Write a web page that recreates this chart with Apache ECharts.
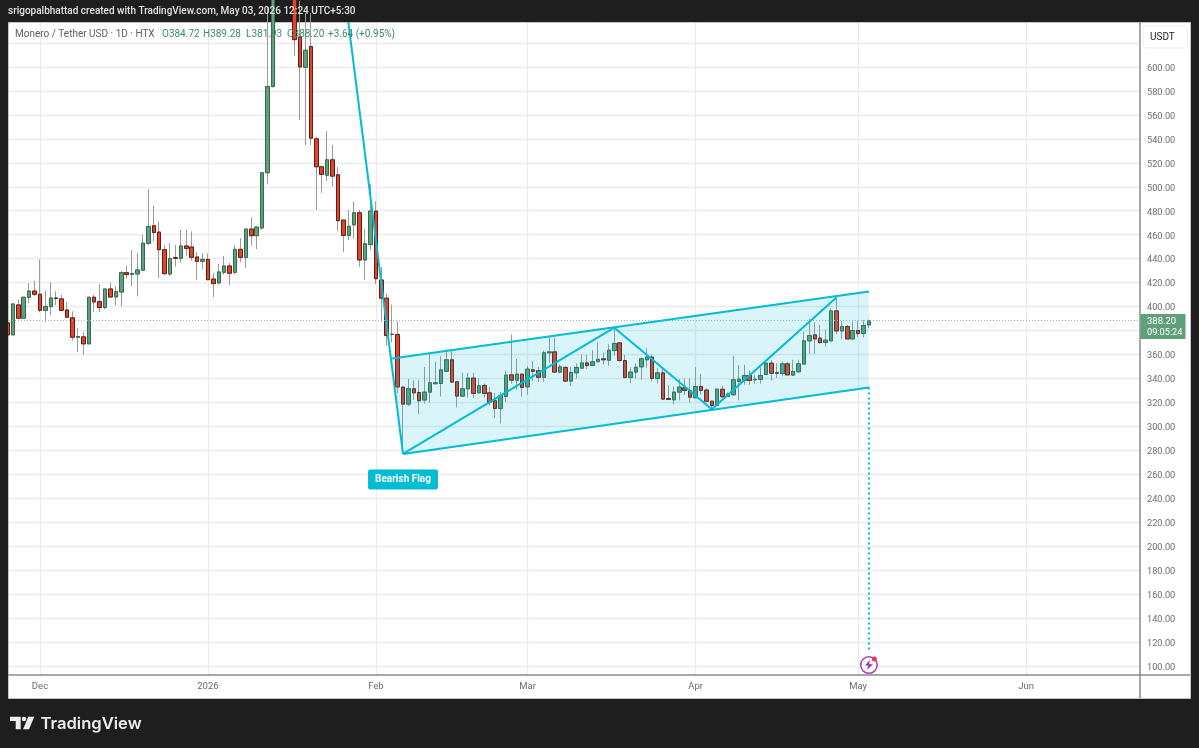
<!DOCTYPE html>
<html>
<head>
<meta charset="utf-8">
<title>Monero / Tether USD</title>
<script src="https://cdn.jsdelivr.net/npm/echarts@6/dist/echarts.min.js"></script>
<style>
html, body { margin: 0; padding: 0; background: #1e1e1e; }
#chart { width: 1199px; height: 748px; }
</style>
</head>
<body>
<div id="chart"></div>
<script>
// XMR/USDT daily candles. First candle is 2025-11-25.
const firstDay = Date.UTC(2025, 10, 25);
const DAY = 86400000;

const opens = [
  386.4, 376.4, 401.4, 390.3, 407.8, 413,
  410.3, 396.9, 400, 407.2, 406.4, 397.2, 390.6, 374.4, 374.7, 368.9, 407.8, 404.2, 399.2, 414.7, 408, 412.2, 428.3, 426.9, 427.2, 430.3, 452.8, 467.5, 462.2, 447.5, 427.2, 440.8, 440.3, 450.6, 449.7, 441.4, 437.8,
  439.4, 423, 419.7, 428.6, 433.9, 428.6, 447.8, 441.1, 464.7, 459.2, 465.6, 511.7, 583.6, 690, 730, 700, 690, 625, 599.7, 617, 540, 516.7, 509.7, 522.5, 510, 472.2, 459.4, 468.3, 478.3, 438.9, 451.7,
  479.7, 422.2, 407, 376.7, 376.7, 332.8, 318.6, 331.4, 328.3, 322, 328.6, 335.6, 335.8, 346, 355.6, 337.2, 325.3, 331.4, 340.3, 328, 334.2, 328, 321.4, 315, 325, 343, 338.6, 343.6,
  333, 347.2, 346.4, 341, 361.4, 362.2, 345.3, 349.2, 337.8, 344.7, 348.6, 353, 350.8, 354, 356.4, 355.3, 363.3, 369.7, 355, 340.8, 345.3, 349.7, 355.6, 357.8, 340, 344.7, 323.3, 322.2, 328.6, 332.2, 330,
  323.9, 333.3, 330.3, 321, 317.5, 331, 325, 326.4, 337.5, 338.3, 342.5, 338.9, 339.2, 343.3, 352.8, 344.7, 344.2, 352.2, 342.8, 345.6, 352, 371.4, 376.4, 373.6, 370, 371.4, 396.4, 379.7, 383.3, 373,
  380, 377.5, 384.72
];
const closes = [
  376.4, 402.2, 390.3, 407.8, 413, 410.3,
  396.9, 400, 407.2, 406.7, 396.9, 391.1, 374.4, 375, 368.9, 407.8, 403.9, 399.2, 414.7, 408, 412.5, 428.3, 426.7, 427.5, 430.6, 453, 466.9, 461.9, 447.5, 427.5, 440, 440.3, 450.6, 448.6, 441.1, 437.8, 439.4,
  422.5, 419.2, 428.9, 433.9, 427.8, 447.8, 441.1, 464.7, 459.2, 466.4, 511.7, 583.6, 690, 730, 700, 690, 622.8, 600, 614, 540.6, 516.7, 510.3, 522.5, 508.9, 471.7, 459.4, 467, 478.3, 438.9, 452.5, 479.7,
  423.3, 407, 375.8, 377, 333, 318.6, 331.4, 328, 321.4, 328.6, 336.4, 336.4, 347.2, 355.6, 337, 325.3, 331.4, 340.3, 327.5, 333.9, 327.5, 320.3, 315, 325.8, 342.8, 338.6, 343.6, 332.5,
  347.8, 346, 341, 361.4, 362.2, 345.3, 349.7, 337.8, 345, 349.2, 353, 350.8, 353.9, 356, 355.6, 363.6, 369.2, 355, 340.8, 345.3, 349.4, 356.4, 357.8, 340, 344.7, 322.8, 322.5, 328.6, 332.8, 330, 324.4,
  333.3, 330, 321, 317.5, 331, 324.7, 327, 338.9, 339.4, 342.5, 338.3, 339.4, 342.5, 352.8, 344.4, 344.4, 352.2, 343, 345.8, 352.2, 371.4, 375.8, 373, 370, 372, 396.4, 379.7, 383.3, 373, 380,
  377.5, 384.2, 388.2
];
const lows = [
  376.4, 376.4, 390.3, 390.3, 403, 408.6,
  395.3, 387, 392.8, 401.1, 396.1, 390.6, 371.7, 362, 360, 368.9, 395.6, 395.3, 397.8, 407.5, 401.1, 400.3, 423.3, 416.9, 408.6, 430.3, 451.1, 454.2, 423.9, 426.1, 425.3, 433.3, 436.9, 442.5, 438.3, 422.5, 430.8,
  421.9, 408, 418.6, 426.7, 417.8, 426.7, 436.9, 432.2, 450.8, 448, 464, 502, 583, 660, 680, 650, 609.4, 555.6, 535, 534.7, 480.6, 495, 504.7, 500, 463, 445.6, 455.5, 456.7, 433.3, 422.2, 447.2,
  418.6, 387, 367.5, 370, 328, 278, 317, 322, 310, 319, 319.7, 335.6, 325, 346, 336.4, 315.8, 324.7, 324, 323.6, 327.5, 323.9, 317.5, 307.2, 302.5, 320.3, 335.6, 330.8, 324.7,
  326.4, 337.8, 337, 337.2, 353, 344.7, 344.2, 337.5, 333.6, 340, 348, 348, 350.3, 353.6, 351.7, 350.8, 359, 354, 340.2, 336, 340, 338.9, 349, 337.5, 336, 322, 322, 318.6, 321.7, 326.4, 320,
  323.6, 326.4, 320.6, 313.9, 316.7, 324, 324.4, 325.8, 321.7, 334.7, 334.7, 335.6, 335.6, 343, 338.3, 340.5, 341.7, 342.5, 342.2, 345, 352, 360.6, 360.6, 368.9, 366.7, 370.8, 377, 373, 372.8, 372.8,
  374.4, 374.4, 381.93
];
const highs = [
  386.4, 402.2, 405.8, 407.8, 419.7, 421.4,
  439.2, 413.3, 420.3, 412.8, 409.7, 403.9, 396.1, 382.2, 378.9, 407.8, 409.7, 418.9, 414.7, 420.3, 417.2, 429.7, 434.2, 447.2, 445, 460, 498, 484.2, 471.1, 451.7, 453, 451.7, 464.2, 464.2, 462.8, 445.6, 444.7,
  444.2, 428, 435.8, 442.2, 436.4, 451.1, 457.2, 464.7, 474.4, 466.4, 511.7, 650, 700, 760, 750, 720, 695, 655, 645, 645, 541.7, 517.5, 546.4, 535, 516.7, 472.2, 480.6, 487.8, 480.6, 465, 502,
  487.8, 433, 410.8, 401.7, 387.8, 332.8, 339.7, 338.6, 338.6, 349.7, 362, 354, 358.6, 364.7, 364.7, 337.8, 344.7, 344.7, 344.7, 340, 335.8, 332.8, 328, 328.6, 346.7, 376.7, 356.4, 344,
  350.3, 354.4, 349.7, 363.3, 375, 374.4, 351.7, 350.3, 349.7, 352.5, 360, 359.7, 363.6, 370, 361.4, 368.6, 382.8, 370, 359.7, 349.4, 352.8, 357.5, 365.3, 360, 348.9, 348.9, 334.4, 333.3, 339.4, 340, 340,
  349.4, 343.9, 332, 321.5, 332, 333.9, 328.3, 358.9, 351, 351.4, 346.7, 343, 349.4, 355.6, 355.6, 352.8, 354.2, 353.6, 355.6, 355.6, 379, 389.7, 387, 384.7, 380.6, 398.6, 407, 387.5, 384.7, 387.5,
  388.3, 388.9, 389.28
];

// month gridlines and their labels
const monthDays = [Date.UTC(2025, 11, 1), Date.UTC(2026, 0, 1), Date.UTC(2026, 1, 1), Date.UTC(2026, 2, 1), Date.UTC(2026, 3, 1), Date.UTC(2026, 4, 1), Date.UTC(2026, 5, 1)];
const monthLabels = ['Dec', '2026', 'Feb', 'Mar', 'Apr', 'May', 'Jun'];
const priceTicks = [100, 120, 140, 160, 180, 200, 220, 240, 260, 280, 300, 320, 340, 360, 380, 400, 420, 440, 460, 480, 500, 520, 540, 560, 580, 600, 620];

// the pattern drawn on the chart, [date, price]
const d = (y, m, day) => Date.UTC(y, m - 1, day);
const poleLine = [[d(2026, 1, 25), 705.6], [d(2026, 2, 6), 277]];
const swingLine = [[d(2026, 2, 6), 277], [d(2026, 3, 17), 382.4], [d(2026, 4, 4), 314.4], [d(2026, 4, 27), 407.5]];
const upperLine = [[d(2026, 2, 4), 356.7], [d(2026, 5, 3), 412.5]];
const lowerLine = [[d(2026, 2, 6), 277], [d(2026, 5, 3), 332.5]];
const flagCorners = [upperLine[0], upperLine[1], lowerLine[1], lowerLine[0]];
const targetLine = [[d(2026, 5, 3), 332.5], [d(2026, 5, 3), 113.4]];
const flagLabelAt = [d(2026, 2, 6), 255.7];
const boltAt = [d(2026, 5, 3), 100.8];
const alertAt = [d(2026, 5, 4), 105.8];
const lastClose = 388.2;

const upColor = '#5f9f7c';
const downColor = '#e0442c';
const flagColor = '#00bcd4';
const fontName = 'Roboto';

const wickData = opens.map((o, i) => [firstDay + i * DAY, o, closes[i], lows[i], highs[i]]);
const bodyData = opens.map((o, i) => [firstDay + i * DAY, o, closes[i], Math.min(o, closes[i]), Math.max(o, closes[i])]);

function flagLine(name, data) {
  return {
    name: name,
    type: 'line',
    data: data,
    symbol: 'none',
    silent: true,
    z: 6,
    lineStyle: { color: flagColor, width: 2 }
  };
}

function text(x, y, str, fill, size, extra) {
  return {
    type: 'text',
    x: x,
    y: y,
    z: 50,
    silent: true,
    style: Object.assign({ text: str, fill: fill, font: (size || 9.5) + 'px ' + fontName, verticalAlign: 'middle' }, extra || {})
  };
}

const green = '#3d8a63';
const chart = echarts.init(document.getElementById('chart'));

const option = {
  animation: false,
  backgroundColor: '#1e1e1e',
  grid: { left: 9, right: 59, top: 23, bottom: 73 },
  xAxis: {
    type: 'value',
    min: monthDays[0] - 5.72 * DAY,
    max: monthDays[0] + 203.03 * DAY,
    axisLine: { show: true, lineStyle: { color: '#8a8a8a', width: 1.5 } },
    axisTick: { show: false, customValues: monthDays },
    splitLine: { show: true, lineStyle: { color: '#ebebeb', width: 1.3 } },
    axisLabel: {
      customValues: monthDays,
      formatter: (v) => monthLabels[monthDays.indexOf(v)],
      color: '#6b6b6b',
      fontFamily: fontName,
      fontSize: 9.5,
      margin: 7,
      hideOverlap: false
    }
  },
  yAxis: {
    type: 'value',
    position: 'right',
    min: 92.5,
    max: 636.7,
    axisLine: { show: true, lineStyle: { color: '#8a8a8a', width: 1.5 } },
    axisTick: { show: false, customValues: priceTicks },
    splitLine: { show: true, lineStyle: { color: '#ebebeb', width: 1.3 } },
    axisLabel: {
      customValues: priceTicks,
      formatter: (v) => v.toFixed(2),
      color: '#6b6b6b',
      fontFamily: fontName,
      fontSize: 9.2,
      verticalAlign: 'top',
      lineHeight: 3,
      margin: 7
    }
  },
  series: [
    {
      name: 'wicks',
      type: 'candlestick',
      data: wickData,
      barWidth: 4,
      z: 3,
      silent: true,
      itemStyle: { color: '#9a9a9a', color0: '#9a9a9a', borderColor: '#9a9a9a', borderColor0: '#9a9a9a', borderWidth: 1 },
      markLine: {
        symbol: 'none',
        silent: true,
        label: { show: false },
        lineStyle: { color: '#8fc0a6', type: [1, 2], width: 1 },
        data: [{ yAxis: lastClose }]
      }
    },
    {
      name: 'XMR/USDT',
      type: 'candlestick',
      data: bodyData,
      barWidth: 4,
      z: 4,
      silent: true,
      itemStyle: { color: upColor, color0: downColor, borderColor: '#356a4e', borderColor0: '#651c10', borderWidth: 1 }
    },
    {
      name: 'flag area',
      type: 'custom',
      data: flagCorners,
      encode: { x: 0, y: 1 },
      z: 5,
      silent: true,
      renderItem: function (params, api) {
        if (params.dataIndex !== 0) return null;
        return {
          type: 'polygon',
          shape: { points: flagCorners.map((p) => api.coord(p)) },
          style: { fill: 'rgba(0,188,212,0.15)' }
        };
      }
    },
    flagLine('pole', poleLine),
    flagLine('swings', swingLine),
    flagLine('upper', upperLine),
    flagLine('lower', lowerLine),
    {
      name: 'target',
      type: 'line',
      data: targetLine,
      symbol: 'none',
      silent: true,
      z: 6,
      lineStyle: { color: flagColor, width: 2, type: [2, 3] }
    },
    {
      name: 'Bearish Flag',
      type: 'scatter',
      data: [flagLabelAt],
      symbolSize: 0,
      silent: true,
      z: 7,
      itemStyle: { opacity: 1 },
      label: {
        show: true,
        position: 'inside',
        formatter: 'Bearish Flag',
        color: '#ffffff',
        backgroundColor: flagColor,
        borderRadius: 2,
        padding: [5, 7, 5, 7],
        fontFamily: fontName,
        fontSize: 10,
        fontWeight: 'bold'
      }
    },
    {
      name: 'alert ring',
      type: 'scatter',
      data: [boltAt],
      symbol: 'circle',
      symbolSize: 16.5,
      silent: true,
      z: 7,
      itemStyle: { color: '#ffffff', borderColor: '#a73fbd', borderWidth: 1.5, opacity: 1 }
    },
    {
      name: 'alert bolt',
      type: 'scatter',
      data: [boltAt],
      symbol: 'path://M6 0 L1 6 L4.5 6 L3 11 L9 4.5 L5.2 4.5 Z',
      symbolSize: [8, 10],
      silent: true,
      z: 8,
      itemStyle: { color: '#9c27b0', opacity: 1 }
    },
    {
      name: 'alert dot',
      type: 'scatter',
      data: [alertAt],
      symbol: 'circle',
      symbolSize: 5,
      silent: true,
      z: 8,
      itemStyle: { color: '#f23645', opacity: 1 }
    }
  ],
  graphic: [
    // white panel behind everything, dark page around it
    { type: 'rect', z: -10, silent: true, shape: { x: 8.5, y: 22.5, width: 1182, height: 676 }, style: { fill: '#ffffff', stroke: '#c4c4c4', lineWidth: 1 } },
    // the first candle sits half outside the pane
    { type: 'rect', z: 40, silent: true, shape: { x: 0, y: 24, width: 8, height: 651 }, style: { fill: '#1e1e1e' } },
    { type: 'line', z: 40, silent: true, shape: { x1: 1140, y1: 675, x2: 1140, y2: 698 }, style: { stroke: '#8a8a8a', lineWidth: 1.5 } },
    { type: 'line', z: 40, silent: true, shape: { x1: 1140, y1: 675, x2: 1190, y2: 675 }, style: { stroke: '#8a8a8a', lineWidth: 1.5 } },

    text(8, 11.5, 'srigopalbhattad created with TradingView.com, May 03, 2026 12:24 UTC+5:30', '#e2e2e2', 10, { font: '500 10px Roboto' }),

    text(15, 34, 'Monero / Tether USD · 1D · HTX', '#5f5f5f', 10),
    text(162, 34, 'O384.72', green, 10),
    text(203, 34, 'H389.28', green, 10),
    text(246, 34, 'L381.93', green, 10),
    text(287, 34, 'C388.20', green, 10),
    text(328, 34, '+3.64 (+0.95%)', green, 10),

    { type: 'rect', z: 40, silent: true, shape: { x: 1143, y: 26, width: 44.5, height: 22, r: 3 }, style: { fill: '#ffffff', stroke: '#efefef', lineWidth: 1 } },
    text(1150, 37, 'USDT', '#222222', 10),

    // last price tag
    { type: 'rect', z: 40, silent: true, shape: { x: 1140.5, y: 314, width: 45, height: 25 }, style: { fill: '#5f9f7c' } },
    text(1147, 321.5, '388.20', '#ffffff', 9.5),
    text(1147, 332.5, '09:05:24', '#ffffff', 9.2),

    // TradingView mark
    { type: 'polygon', z: 40, silent: true, shape: { points: [[10, 716.7], [20.7, 716.7], [20.7, 729.3], [15.7, 729.3], [15.7, 721], [10, 721]] }, style: { fill: '#ececec' } },
    { type: 'circle', z: 40, silent: true, shape: { cx: 24, cy: 719, r: 2.3 }, style: { fill: '#ececec' } },
    { type: 'polygon', z: 40, silent: true, shape: { points: [[28.3, 716.7], [34.3, 716.7], [29, 729.3], [23, 729.3]] }, style: { fill: '#ececec' } },
    text(40.5, 723.5, 'TradingView', '#ececec', 16.6, { font: '600 16.6px Inter' })
  ]
};

chart.setOption(option);
</script>
</body>
</html>
